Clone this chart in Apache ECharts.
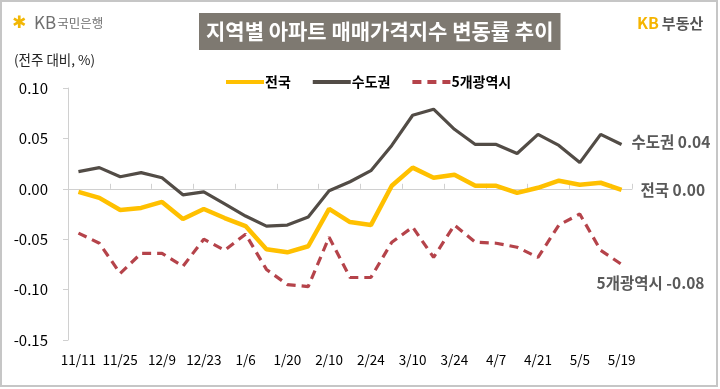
<!DOCTYPE html>
<html><head><meta charset="utf-8">
<script src="https://cdn.jsdelivr.net/npm/echarts@6/dist/echarts.min.js"></script>
<style>html,body{margin:0;padding:0;background:#fff;}#c{width:720px;height:389px;}</style>
</head><body><div id="c"></div>
<script>
var categories = ['11/11','11/18','11/25','12/2','12/9','12/16','12/23','12/30','1/6','1/13','1/20','2/3','2/10','2/17','2/24','3/3','3/10','3/17','3/24','3/31','4/7','4/14','4/21','4/28','5/5','5/12','5/19'];
var national = [-0.003,-0.009,-0.021,-0.019,-0.013,-0.030,-0.020,-0.029,-0.037,-0.060,-0.063,-0.057,-0.020,-0.033,-0.036,0.003,0.021,0.011,0.014,0.003,0.003,-0.004,0.001,0.008,0.004,0.006,-0.001];
var capital = [0.017,0.021,0.012,0.016,0.011,-0.006,-0.003,-0.015,-0.027,-0.037,-0.036,-0.028,-0.002,0.007,0.018,0.043,0.073,0.079,0.059,0.044,0.044,0.035,0.054,0.043,0.026,0.054,0.044];
var metro = [-0.044,-0.054,-0.084,-0.064,-0.064,-0.077,-0.050,-0.061,-0.045,-0.080,-0.095,-0.097,-0.048,-0.088,-0.088,-0.053,-0.038,-0.068,-0.036,-0.053,-0.054,-0.058,-0.068,-0.036,-0.025,-0.061,-0.075];
var seriesNames = ['전국','수도권','5개광역시'];
var endLabels = ['전국 0.00','수도권 0.04','5개광역시 -0.08'];
var yTicks = {min:-0.15, max:0.10, interval:0.05};

var FONT = '"Noto Sans CJK KR", "Noto Sans", sans-serif';
var chart = echarts.init(document.getElementById('c'), null, {renderer:'canvas'});
var endLabelStyle = {show:true, color:'#595959', fontWeight:'bold', fontSize:15.5, fontFamily:FONT};
chart.setOption({
  backgroundColor:'#fff',
  animation:false,
  textStyle:{fontFamily:FONT},
  title:{
    text:'지역별 아파트 매매가격지수 변동률 추이',
    left:199, top:13,
    backgroundColor:'#7e7971',
    padding:[5,7,5,7],
    textStyle:{color:'#fff', fontSize:21, fontWeight:'bold', fontFamily:FONT, lineHeight:27}
  },
  graphic:[
    {type:'rect', shape:{x:1,y:1,width:716,height:385}, style:{fill:'none', stroke:'#c6c6c6', lineWidth:2}, silent:true},
    {type:'text', left:12, top:15, style:{text:'✱', fill:'#f2b705', font:'bold 17px "DejaVu Sans"'}},
    {type:'text', left:34, top:14, style:{text:'{a|KB}{b|국민은행}', rich:{a:{fontSize:17, fill:'#6e6e6e', fontFamily:FONT}, b:{fontSize:12.5, fill:'#6e6e6e', fontFamily:FONT, padding:[2,0,0,1]}}}},
    {type:'text', left:14, top:53, style:{text:'(전주 대비, %)', fill:'#222', font:'13.5px ' + FONT}},
    {type:'text', left:637, top:15, style:{text:'{a|KB}{b|부동산}', rich:{a:{fontSize:16, fill:'#f5b400', fontWeight:'bold', fontFamily:FONT}, b:{fontSize:15, fill:'#555', fontWeight:'bold', fontFamily:FONT, padding:[0,0,0,3]}}}}
  ],
  legend:{
    left:224, top:75, padding:0, itemWidth:38, itemHeight:14, itemGap:20,
    itemStyle:{opacity:0},
    lineStyle:{width:4},
    textStyle:{color:'#000', fontWeight:'bold', fontSize:14, fontFamily:FONT, padding:[0,0,0,-4]},
    data:seriesNames
  },
  grid:{left:68, right:88, top:88, bottom:49, containLabel:false},
  xAxis:[
    {type:'category', data:categories, boundaryGap:true, position:'bottom',
     axisLine:{show:false, onZero:false}, axisTick:{show:false},
     axisLabel:{interval:1, color:'#000', fontSize:13.5, margin:13, fontFamily:FONT}},
    {type:'category', data:categories, boundaryGap:true,
     axisLine:{show:true, onZero:true, lineStyle:{color:'#d0d0d0', width:1}},
     axisTick:{show:true, length:5, lineStyle:{color:'#d0d0d0'}},
     axisLabel:{show:false}}
  ],
  yAxis:{type:'value', min:yTicks.min, max:yTicks.max, interval:yTicks.interval,
    axisLine:{show:true, lineStyle:{color:'#d0d0d0'}},
    axisTick:{show:true, length:5, lineStyle:{color:'#d0d0d0'}},
    splitLine:{show:false},
    axisLabel:{color:'#000', fontSize:15, margin:20, fontFamily:FONT, formatter:function(v){return v.toFixed(2);}}},
  series:[
    {name:seriesNames[0], type:'line', data:national, symbol:'none', z:4,
     lineStyle:{color:'#ffc000', width:4.5}, itemStyle:{color:'#ffc000'},
     endLabel:Object.assign({formatter:endLabels[0], distance:19}, endLabelStyle)},
    {name:seriesNames[1], type:'line', data:capital, symbol:'none', z:3,
     lineStyle:{color:'#524c46', width:3.2}, itemStyle:{color:'#524c46'},
     endLabel:Object.assign({formatter:endLabels[1], distance:10, offset:[0,-2]}, endLabelStyle)},
    {name:seriesNames[2], type:'line', data:metro, symbol:'none', z:2,
     lineStyle:{color:'#b5434a', width:3.2, type:[9,6]}, itemStyle:{color:'#b5434a'},
     endLabel:Object.assign({formatter:endLabels[2], distance:0, offset:[-25,19]}, endLabelStyle)}
  ]
});
</script></body></html>
